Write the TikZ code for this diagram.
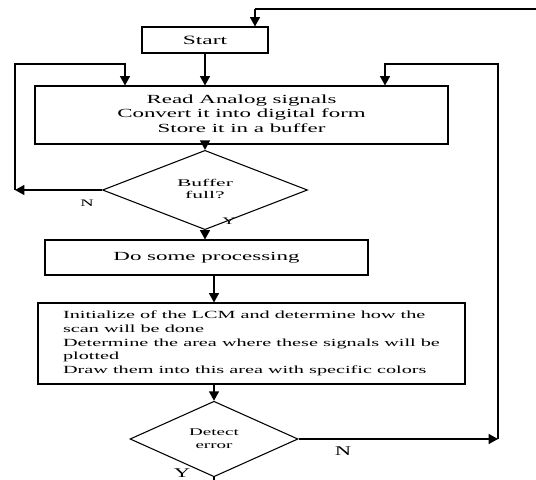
\documentclass[tikz,border=0pt]{standalone}
\usepackage{fontspec}
\setmainfont{Liberation Serif}
\usepackage{graphicx}
\usetikzlibrary{shapes.geometric,arrows.meta}
\newcommand{\wide}[2][1.85]{\scalebox{#1}[1]{#2}}

\begin{document}
\begin{tikzpicture}[x=0.75pt,y=-0.75pt]
  \tikzstyle{box}=[rectangle,draw,line width=0.8pt,inner sep=0pt]
  \tikzstyle{decision}=[diamond,draw,line width=0.8pt,inner sep=0pt]
  \tikzstyle{flow}=[draw,line width=1pt,-{Triangle[length=7pt,width=7.5pt]}]
  \tikzstyle{lbl}=[inner sep=0pt]
  \useasboundingbox (0,0) rectangle (536,479);
  \clip (0,0) rectangle (536,479);
  \node[box,minimum width=94.5pt,minimum height=19.5pt,font=\fontsize{9.5}{11}\selectfont](start) at (205,40){\wide{Start}};
  \node[box,minimum width=309.75pt,minimum height=43.5pt,font=\fontsize{9.3}{10.9}\selectfont](read) at (241.5,115)
    {\wide{\begin{tabular}{@{}c@{}}Read Analog signals\\Convert it into digital form\\Store it in a buffer\end{tabular}}};
  \node[decision,minimum width=153.75pt,minimum height=39pt,font=\fontsize{7.7}{8.8}\selectfont](buf) at (205,190)
    {\wide[2.1]{\begin{tabular}{@{}c@{}}Buffer\\full?\end{tabular}}};
  \node[box,minimum width=242.25pt,minimum height=26.25pt,font=\fontsize{9.3}{10.9}\selectfont](do) at (206.5,257.5){\wide{Do some processing}};
  \node[box,minimum width=320.25pt,minimum height=60.75pt,font=\fontsize{8.2}{10.3}\selectfont](init) at (251.5,343.5)
    {\wide{\begin{tabular}{@{}l@{}}Initialize of the LCM and determine how the\\scan will be done\\Determine the area where these signals will be\\plotted\\Draw them into this area with specific colors\end{tabular}}};
  \node[decision,minimum width=126pt,minimum height=54pt,font=\fontsize{7.7}{9.75}\selectfont](det) at (214,439)
    {\wide{\begin{tabular}{@{}c@{}}Detect\\error\end{tabular}}};
  \coordinate (topend) at (536,9);
  \coordinate (topin) at (255,9);
  \coordinate (lft) at (15,190);
  \coordinate (lftop) at (125,64);
  \coordinate (rgt) at (498,439);
  \coordinate (rgtop) at (385,64);
  \coordinate (exit) at (214,492);
  \path[draw,line width=1pt] (topend) -- (topin);
  \path[flow] (topin) -- (topin |- start.north);
  \path[flow] (start.south) -- (start.south |- read.north);
  \path[flow] (buf.north |- read.south) -- (buf.north);
  \path[flow] (buf.west) -- (lft);
  \path[flow] (lft) |- (lftop) -- (lftop |- read.north);
  \path[flow] (buf.south) -- (buf.south |- do.north);
  \path[flow] (det.north |- do.south) -- (det.north |- init.north);
  \path[flow] (det.north |- init.south) -- (det.north);
  \path[flow] (det.east) -- (rgt);
  \path[flow] (rgt) |- (rgtop) -- (rgtop |- read.north);
  \path[flow] (det.south) -- (exit);
  \node[lbl,font=\fontsize{7.5}{9}\selectfont](bufn) at (87,203){\wide{N}};
  \node[lbl,font=\fontsize{7.5}{9}\selectfont](bufy) at (229,221){\wide{Y}};
  \node[lbl,font=\fontsize{10}{12}\selectfont](detn) at (343,451){\wide[1.7]{N}};
  \node[lbl,font=\fontsize{10}{12}\selectfont](dety) at (182,473){\wide[1.7]{Y}};
\end{tikzpicture}
\end{document}
